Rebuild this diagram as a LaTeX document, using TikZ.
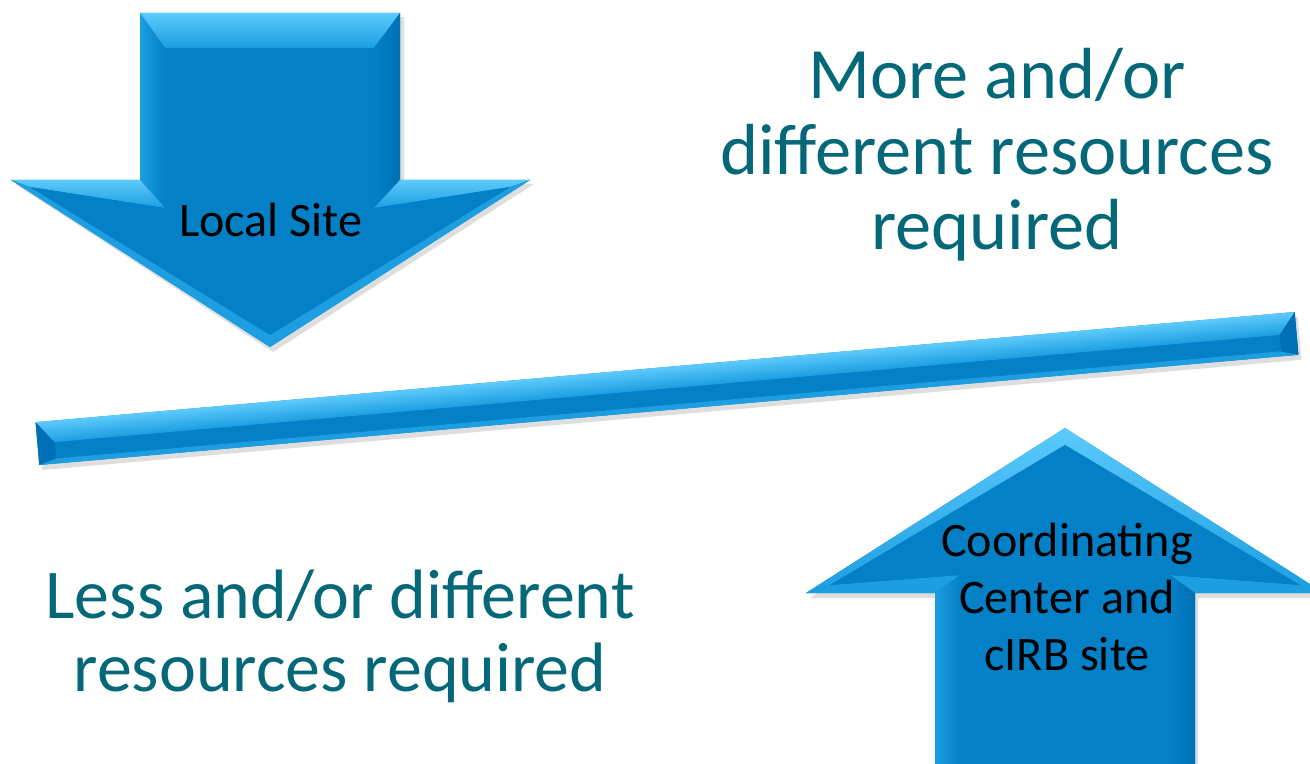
\documentclass[tikz,border=0pt]{standalone}
\usepackage{fontspec}
\setmainfont{Carlito}
\usepackage{xcolor}

\definecolor{mainblue}{RGB}{4,128,198}
\definecolor{lightblue}{RGB}{92,202,252}
\definecolor{midblue}{RGB}{28,158,224}
\definecolor{darkblue}{RGB}{0,112,182}
\definecolor{tealtext}{RGB}{4,104,120}

\tikzset{
  shadowfill/.style={fill=black,opacity=0.13},
  bigtext/.style={text=tealtext,align=center,font=\fontsize{41.2}{43}\selectfont},
  sitetext/.style={text=black,align=center,font=\fontsize{27.4}{32.4}\selectfont}
}

\begin{document}
\begin{tikzpicture}[line join=round]
\useasboundingbox (0,0) rectangle (26.2,15.26);
\clip (0,0) rectangle (26.2,15.26);

% soft shadows
\fill[shadowfill] (2.86,14.92) -- (8.08,14.92) -- (8.08,11.58) -- (10.68,11.58) -- (5.46,8.22) -- (0.3,11.58) -- (2.86,11.58) -- cycle;
\fill[shadowfill] (21.36,6.6) -- (26.56,3.3) -- (23.96,3.3) -- (23.96,-0.6) -- (18.76,-0.6) -- (18.76,3.3) -- (16.2,3.3) -- cycle;
\begin{scope}[transform canvas={shift={(13.4,7.39)},rotate=5}]
\fill[shadowfill] (-12.64,-0.43) rectangle (12.64,0.43);
\end{scope}

% down arrow
\fill[mainblue] (2.8,15.0) -- (8.0,15.0) -- (8.0,11.66) -- (10.6,11.66) -- (5.4,8.32) -- (0.22,11.66) -- (2.8,11.66) -- cycle;
\shade[top color=lightblue,bottom color=midblue] (2.8,15.0) -- (8.0,15.0) -- (7.48,14.3) -- (3.3,14.3) -- cycle;
\shade[left color=midblue,right color=mainblue] (2.8,15.0) -- (3.3,14.3) -- (3.3,11.1) -- (2.8,11.66) -- cycle;
\shade[left color=mainblue,right color=darkblue] (8.0,15.0) -- (7.48,14.3) -- (7.48,11.1) -- (8.0,11.66) -- cycle;
\shade[top color=lightblue,bottom color=midblue] (0.22,11.66) -- (2.8,11.66) -- (3.3,11.1) -- (0.6,11.52) -- cycle;
\shade[top color=lightblue,bottom color=midblue] (10.6,11.66) -- (8.0,11.66) -- (7.48,11.1) -- (10.2,11.52) -- cycle;
\fill[midblue] (0.22,11.66) -- (0.6,11.52) -- (5.4,8.56) -- (5.4,8.32) -- cycle;
\fill[midblue] (10.6,11.66) -- (10.2,11.52) -- (5.4,8.56) -- (5.4,8.32) -- cycle;
\fill[mainblue] (3.3,14.3) -- (7.48,14.3) -- (7.48,11.1) -- (10.2,11.52) -- (5.4,8.56) -- (0.6,11.52) -- (3.3,11.1) -- cycle;

% up arrow
\fill[mainblue] (21.3,6.7) -- (26.48,3.4) -- (23.9,3.4) -- (23.9,-0.54) -- (18.7,-0.54) -- (18.7,3.4) -- (16.12,3.4) -- cycle;
\shade[top color=lightblue,bottom color=midblue] (21.3,6.7) -- (16.12,3.4) -- (16.6,3.56) -- (21.3,6.36) -- cycle;
\shade[top color=lightblue,bottom color=midblue] (21.3,6.7) -- (26.48,3.4) -- (26.0,3.56) -- (21.3,6.36) -- cycle;
\fill[midblue] (16.12,3.4) -- (18.7,3.4) -- (19.2,3.76) -- (16.6,3.56) -- cycle;
\fill[midblue] (26.48,3.4) -- (23.9,3.4) -- (23.4,3.76) -- (26.0,3.56) -- cycle;
\shade[left color=midblue,right color=mainblue] (18.7,3.4) -- (19.2,3.76) -- (19.2,-0.04) -- (18.7,-0.54) -- cycle;
\shade[left color=mainblue,right color=darkblue] (23.9,3.4) -- (23.4,3.76) -- (23.4,-0.04) -- (23.9,-0.54) -- cycle;
\fill[darkblue] (18.7,-0.54) -- (19.2,-0.04) -- (23.4,-0.04) -- (23.9,-0.54) -- cycle;
\fill[mainblue] (21.3,6.36) -- (26.0,3.56) -- (23.4,3.76) -- (23.4,-0.04) -- (19.2,-0.04) -- (19.2,3.76) -- (16.6,3.56) -- cycle;

% tilted bar
\begin{scope}[transform canvas={shift={(13.34,7.49)},rotate=5}]
\fill[mainblue] (-12.64,-0.43) rectangle (12.64,0.43);
\shade[top color=lightblue,bottom color=midblue] (-12.64,0.43) -- (12.64,0.43) -- (12.3,0.0) -- (-12.3,0.0) -- cycle;
\fill[midblue] (-12.64,-0.43) -- (12.64,-0.43) -- (12.3,-0.33) -- (-12.3,-0.33) -- cycle;
\fill[darkblue] (-12.64,0.43) -- (-12.3,0.0) -- (-12.3,-0.33) -- (-12.64,-0.43) -- cycle;
\fill[darkblue] (12.64,0.43) -- (12.3,0.0) -- (12.3,-0.33) -- (12.64,-0.43) -- cycle;
\end{scope}

% texts
\node[bigtext] (more) at (19.94,12.16) {More and/or\\different resources\\required};
\node[bigtext,font=\fontsize{39.8}{41.4}\selectfont] (less) at (6.8,2.54) {Less and/or different\\resources required};
\node[sitetext] (local) at (5.42,10.86) {Local Site};
\node[sitetext] (coord) at (21.34,3.32) {Coordinating\\Center and\\cIRB site};
\end{tikzpicture}
\end{document}
